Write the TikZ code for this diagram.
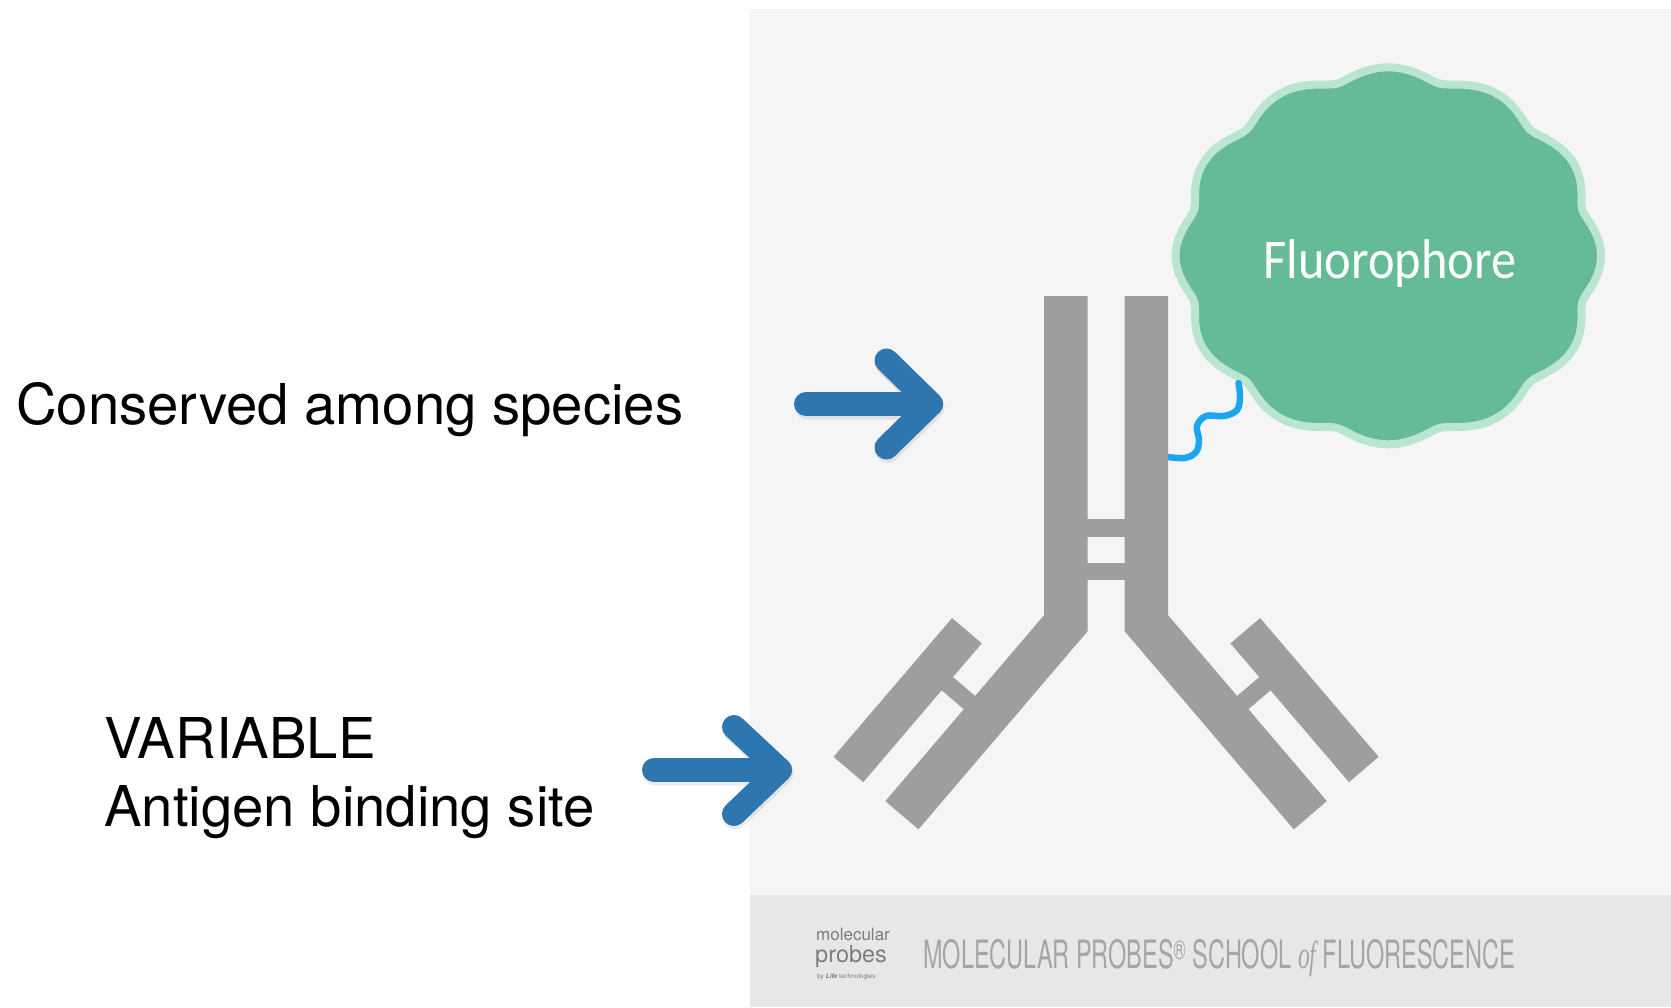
\documentclass[tikz,border=0pt]{standalone}
\usepackage{fontspec}
\setmainfont{TeX Gyre Heros}
\newfontfamily\fluofont{Carlito}
\newfontfamily\ofont{Liberation Serif}
\usetikzlibrary{calc}
\definecolor{panelgray}{RGB}{245,245,245}
\definecolor{footgray}{RGB}{231,231,231}
\definecolor{abgray}{RGB}{158,158,158}
\definecolor{arrowblue}{RGB}{46,118,176}
\definecolor{fluofill}{RGB}{102,187,151}
\definecolor{fluorim}{RGB}{186,230,209}
\definecolor{linkblue}{RGB}{28,166,240}
\definecolor{foottext}{RGB}{165,165,165}
\definecolor{logotext}{RGB}{125,125,125}

\begin{document}
\begin{tikzpicture}[x=1pt,y=-1pt,
  chain/.style={draw=abgray, line width=43.5pt, line cap=butt, line join=miter},
  lchain/.style={draw=abgray, line width=39pt, line cap=butt},
  bridge/.style={draw=abgray, line width=17.4pt, line cap=butt},
  pointer/.style={draw=arrowblue, line width=24pt, line cap=round, line join=round},
  pshadow/.style={draw=black, opacity=0.08, line width=25pt, line cap=round, line join=round},
  label/.style={anchor=base west, inner sep=0pt, font=\fontsize{56.3}{66}\selectfont},
  logo/.style={anchor=base west, inner sep=0pt, text=logotext}
]
\useasboundingbox (0,0) rectangle (1671,1007);
% backgrounds
\fill[white] (0,0) rectangle (1671,1007);
\fill[panelgray] (750,9) rectangle (1671,1007);
\fill[footgray] (750,895) rectangle (1671,1007);

% fluorophore: scalloped disc with a pale rim (broad lobes, soft notches)
\filldraw[fill=fluofill, draw=fluorim, line width=8pt, line join=round]
  plot[domain=0:360, samples=721, variable=\t]
  ({1388.3 + 212.7*(0.945+0.055*(sqrt(cos(6*\t)^2+0.06)-0.2449)/0.7847)*cos(\t)},
   {255.8 + 188.5*(0.945+0.055*(sqrt(cos(6*\t)^2+0.06)-0.2449)/0.7847)*sin(\t)}) -- cycle;
\node[font=\fluofont\fontsize{56}{60}\selectfont, text=white, anchor=base, inner sep=0pt]
  (fluo) at (1390,278.3) {\scalebox{0.9}[1]{Fluorophore}};

% flexible linker from the heavy chain to the dye
\coordinate (linkA) at (1160,456);
\coordinate (linkB) at (1238.5,383);
\draw[linkblue, line width=6.5pt, line cap=round]
  plot[smooth, tension=0.6] coordinates {(linkA) (1184,458) (1196,452) (1199,440) (1197,426)
    (1206,416) (1224,416) (1237,410) (1240,397) (linkB)};

% antibody: heavy chains
\coordinate (hLtop) at (1065.85,296);
\coordinate (hLbend) at (1065.85,623.2);
\coordinate (hLend) at (901.9,815.2);
\coordinate (hRtop) at (1146.35,296);
\coordinate (hRbend) at (1146.35,623.2);
\coordinate (hRend) at (1310.3,815.2);
\draw[chain] (hLtop) -- (hLbend) -- (hLend);
\draw[chain] (hRtop) -- (hRbend) -- (hRend);
% light chains
\coordinate (lLtop) at (966.9,630.7);
\coordinate (lLend) at (848.4,769.5);
\coordinate (lRtop) at (1245.3,630.7);
\coordinate (lRend) at (1363.8,769.5);
\draw[lchain] (lLtop) -- (lLend);
\draw[lchain] (lRtop) -- (lRend);
% disulfide bridges
\draw[bridge] (986,716.7) -- (932.5,671);
\draw[bridge] (1226.2,716.7) -- (1279.7,671);
\draw[bridge] (1065.85,528) -- (1146.35,528);
\draw[bridge] (1065.85,571.35) -- (1146.35,571.35);

% pointer arrows
\coordinate (a1tail) at (806,404);
\coordinate (a1tip) at (931,404);
\coordinate (a1up) at (886.5,360.5);
\coordinate (a1dn) at (886.5,447.5);
\coordinate (a2tail) at (654,770);
\coordinate (a2tip) at (780,770);
\coordinate (a2up) at (734,727);
\coordinate (a2dn) at (734,814);
\begin{scope}[transform canvas={shift={(1pt,-3pt)}}]
  \draw[pshadow] (a1tail) -- (a1tip) (a1up) -- (a1tip) -- (a1dn);
  \draw[pshadow] (a2tail) -- (a2tip) (a2up) -- (a2tip) -- (a2dn);
\end{scope}
\draw[pointer] (a1tail) -- (a1tip);
\draw[pointer] (a1up) -- (a1tip) -- (a1dn);
\draw[pointer] (a2tail) -- (a2tip);
\draw[pointer] (a2up) -- (a2tip) -- (a2dn);

% labels
\node[label] (cons) at (16,424) {Conserved among species};
\node[label] (var) at (104,758.3) {VARIABLE};
\node[label] (ant) at (104,826) {Antigen binding site};

% footer
\node[logo, font=\fontsize{17}{17}\selectfont] (mol) at (816,940) {molecular};
\node[logo, font=\fontsize{23.5}{23.5}\selectfont] (prb) at (815,962) {probes};
\node[logo, font=\fontsize{6.5}{6.5}\selectfont] (life) at (817,978) {by \textbf{\textit{Life}} technologies};
\node[anchor=base west, inner sep=0pt, text=foottext] (school) at (923,968.3)
  {\scalebox{0.602}[1]{\fontsize{39}{39}\selectfont MOLECULAR PROBES\textsuperscript{\textregistered} SCHOOL {\ofont\itshape of} FLUORESCENCE}};
\end{tikzpicture}
\end{document}
